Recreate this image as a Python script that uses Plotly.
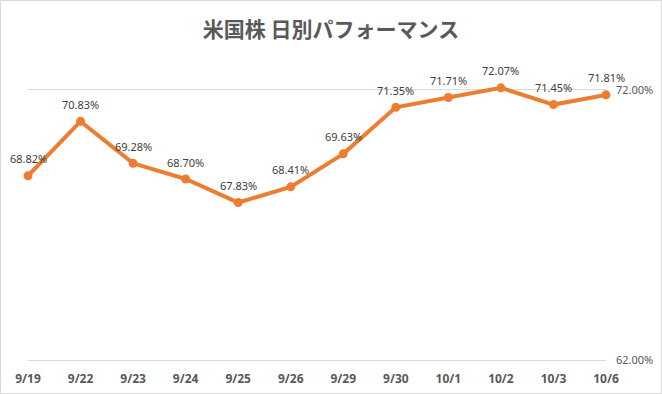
import plotly.graph_objects as go

categories = ["9/19", "9/22", "9/23", "9/24", "9/25", "9/26", "9/29", "9/30", "10/1", "10/2", "10/3", "10/6"]
values = [68.82, 70.83, 69.28, 68.70, 67.83, 68.41, 69.63, 71.35, 71.71, 72.07, 71.45, 71.81]
y_ticks = [62, 72]
y_tick_labels = ["62.00%", "72.00%"]
title_text = "米国株 日別パフォーマンス"

W, H = 662, 394
ml, mr, mt, mb = 28, 56, 87, 31
pw, ph = W - ml - mr, H - mt - mb

fig = go.Figure()
fig.add_trace(go.Scatter(
    x=categories, y=values, mode="lines+markers",
    line=dict(color="#ED7D31", width=4),
    marker=dict(color="#ED7D31", size=9),
    cliponaxis=False, hoverinfo="skip", showlegend=False,
))

annotations = []
for c, v in zip(categories, values):
    annotations.append(dict(
        x=c, y=v, xref="x", yref="y", text=f"{v:.2f}%", showarrow=False,
        yshift=17, font=dict(family="Noto Sans", size=11, color="#404040"),
    ))

shapes = [dict(
    type="rect", xref="paper", yref="paper",
    x0=(0.5 - ml) / pw, x1=(W - 0.5 - ml) / pw,
    y0=(0.5 - mb) / ph, y1=(H - 0.5 - mb) / ph,
    line=dict(color="#D9D9D9", width=1), fillcolor="rgba(0,0,0,0)", layer="below",
)]

fig.update_layout(
    width=W, height=H,
    margin=dict(l=ml, r=mr, t=mt, b=mb, autoexpand=False),
    paper_bgcolor="white", plot_bgcolor="white",
    title=dict(text="<b>" + title_text + "</b>", x=0.5, xref="container", xanchor="center",
               y=1 - 30 / H, yref="container", yanchor="middle",
               font=dict(family="Noto Sans CJK JP", size=21, color="#595959")),
    annotations=annotations,
    shapes=shapes,
    xaxis=dict(type="category", range=[0, 11], showgrid=False, showline=False,
               zeroline=False, ticks="", ticklabelstandoff=7,
               tickfont=dict(family="Noto Sans", size=12, color="#595959", weight="bold")),
    yaxis=dict(side="right", range=[61.9, 72.1], tickvals=y_ticks, ticktext=y_tick_labels,
               showgrid=True, gridcolor="#D9D9D9", gridwidth=1, showline=False, zeroline=False,
               ticks="", ticklabelstandoff=9,
               tickfont=dict(family="Noto Sans", size=11, color="#595959")),
)

fig.write_html("out.html", config={"displayModeBar": False},
               post_script="document.body.style.margin='0';")
